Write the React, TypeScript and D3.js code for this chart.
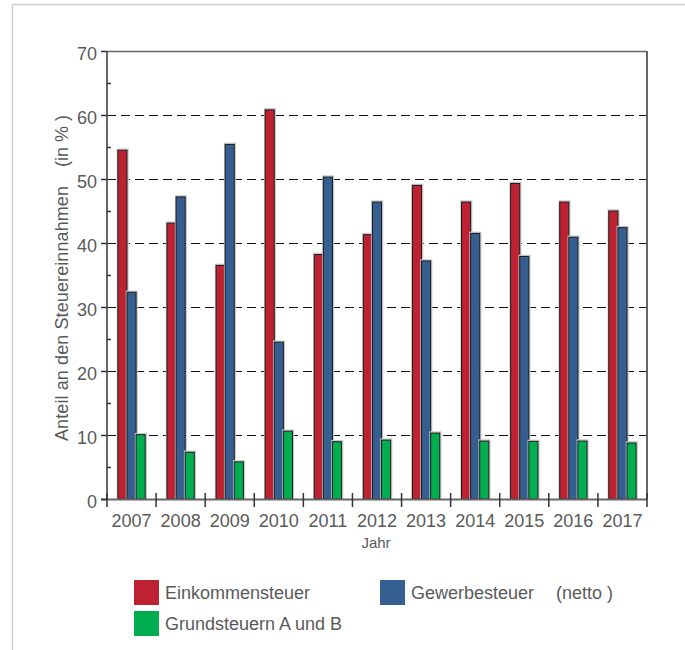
import React from 'react';
import * as d3 from 'd3';

const years = ['2007', '2008', '2009', '2010', '2011', '2012', '2013', '2014', '2015', '2016', '2017'];
const einkommen = [54.5, 43.1, 36.5, 60.8, 38.2, 41.3, 49.0, 46.4, 49.3, 46.4, 45.0];
const gewerbe = [32.3, 47.2, 55.4, 24.5, 50.3, 46.4, 37.2, 41.5, 37.9, 40.9, 42.4];
const grund = [10.05, 7.3, 5.8, 10.6, 8.95, 9.2, 10.3, 9.05, 9.0, 9.05, 8.75];
const majorTicks = [0, 10, 20, 30, 40, 50, 60, 70];
const minorTicks = [5, 15, 25, 35, 45, 55, 65];
const gridTicks = [10, 20, 30, 40, 50, 60];

const seriesNames = ['Einkommensteuer', 'Gewerbesteuer', 'Grundsteuern A und B'];
const colors = ['#BE2232', '#355F90', '#00AE50'];

const FONT = 'Liberation Sans, Arial, Helvetica, sans-serif';

export default function App() {
  const left = 107, right = 647, top = 51, bottom = 499;
  const x = d3.scaleBand<string>().domain(years).range([left, right]).paddingInner(0).paddingOuter(0);
  const y = d3.scaleLinear().domain([0, 70]).range([bottom, top]);
  const barW = 9.1;
  const series = [einkommen, gewerbe, grund];
  const textColor = '#5a5a5a';
  const axisColor = '#666';

  const boundaries = years.map((yr) => x(yr) as number).concat([right]);

  return (
    <div style={{ position: 'absolute', left: 0, top: 0 }}>
      <svg width={685} height={650} style={{ display: 'block', fontFamily: FONT }}>
        <rect x={0} y={0} width={685} height={650} fill="#fff" />
        {/* outer frame */}
        <line x1={12.5} y1={4.5} x2={685} y2={4.5} stroke="#cfcfcf" strokeWidth={1.5} />
        <line x1={12.5} y1={4.5} x2={12.5} y2={650} stroke="#cfcfcf" strokeWidth={1.5} />

        {/* grid lines */}
        {gridTicks.map((t) => (
          <line key={'g' + t} x1={left} x2={right} y1={Math.round(y(t)) + 0.5} y2={Math.round(y(t)) + 0.5}
            stroke="#111" strokeWidth={1} strokeDasharray="9,5" />
        ))}

        {/* bars */}
        {series.map((vals, si) =>
          vals.map((v, i) => {
            const cx = (x(years[i]) as number) + x.bandwidth() / 2;
            const bx = cx - (barW * 3) / 2 + si * barW;
            const by = y(v);
            return (
              <g key={'b' + si + '-' + i}>
                <rect x={bx - 0.5} y={by - 1} width={barW + 1.5} height={bottom - by + 1}
                  fill="none" stroke="#c8c8c8" strokeWidth={1.5} />
                <rect x={bx} y={by} width={barW} height={bottom - by}
                  fill={colors[si]} stroke="#1a1a1a" strokeWidth={1} />
              </g>
            );
          })
        )}

        {/* plot frame */}
        <line x1={left} x2={right} y1={top + 0.5} y2={top + 0.5} stroke={axisColor} strokeWidth={1.5} />
        <line x1={right} x2={right} y1={top} y2={bottom} stroke={axisColor} strokeWidth={2} />
        <line x1={left} x2={left} y1={top} y2={bottom} stroke={axisColor} strokeWidth={2} />
        <line x1={left - 6} x2={right} y1={bottom + 0.5} y2={bottom + 0.5} stroke={axisColor} strokeWidth={2} />

        {/* y major ticks */}
        {majorTicks.map((t) => (
          <g key={'yt' + t}>
            <line x1={left - 6} x2={left} y1={Math.round(y(t)) + 0.5} y2={Math.round(y(t)) + 0.5}
              stroke="#333" strokeWidth={1.5} />
            <text x={97} y={y(t)} dy="0.5em" textAnchor="end" fontSize={18} fill={textColor}>{t}</text>
          </g>
        ))}
        {minorTicks.map((t) => (
          <line key={'ym' + t} x1={left} x2={left + 4} y1={Math.round(y(t)) + 0.5} y2={Math.round(y(t)) + 0.5}
            stroke="#333" strokeWidth={1.5} />
        ))}

        {/* x ticks */}
        {boundaries.map((bx, i) => (
          <line key={'xt' + i} x1={bx} x2={bx} y1={bottom - 6} y2={bottom + 8} stroke="#333" strokeWidth={1.5} />
        ))}
        {years.map((yr) => (
          <text key={'xl' + yr} x={(x(yr) as number) + x.bandwidth() / 2} y={527} textAnchor="middle"
            fontSize={18} fill={textColor}>{yr}</text>
        ))}

        {/* axis titles */}
        <text x={(left + right) / 2 - 1} y={548} textAnchor="middle" fontSize={15} fill={textColor}>Jahr</text>
        <text transform="translate(68,441) rotate(-90)" textAnchor="start" fontSize={18} fill={textColor}
          textLength={255} lengthAdjust="spacing">
          Anteil an den Steuereinnahmen
        </text>
        <text transform="translate(68,115) rotate(-90)" textAnchor="end" fontSize={18} fill={textColor}>
          (in % )
        </text>

        {/* legend */}
        {[
          { i: 0, lx: 134, ly: 580 },
          { i: 1, lx: 380, ly: 580 },
          { i: 2, lx: 134, ly: 611 },
        ].map(({ i, lx, ly }) => (
          <g key={'lg' + i}>
            <rect x={lx} y={ly} width={25} height={25} fill={colors[i]} />
            <text x={lx + 31} y={ly + 19} fontSize={18} fill={textColor}>{seriesNames[i]}</text>
          </g>
        ))}
        <text x={556} y={599} fontSize={18} fill={textColor}>(netto )</text>
      </svg>
    </div>
  );
}
